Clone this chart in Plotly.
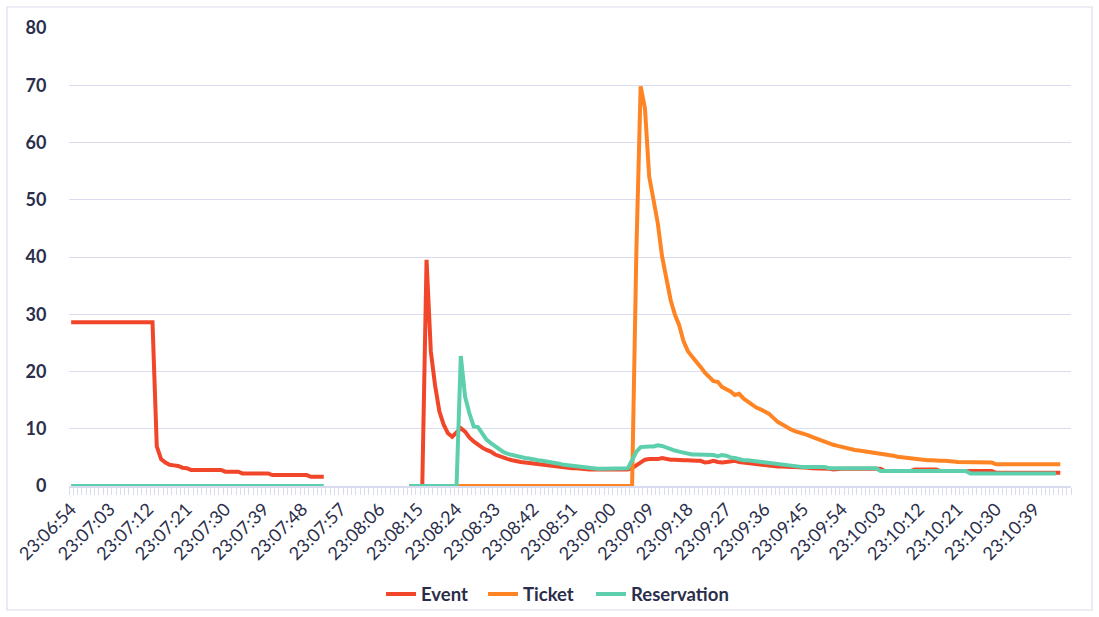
import datetime as dt
import plotly.graph_objects as go

# One category per second, 23:06:54 .. 23:10:47
start = dt.datetime(2000, 1, 1, 23, 6, 54)
times = [(start + dt.timedelta(seconds=s)).strftime("%H:%M:%S") for s in range(234)]
label_every = 9
tick_text = [t if i % label_every == 0 else "" for i, t in enumerate(times)]

N = None
# Event series (first burst 0..59, gap, second burst 79..231)
event = (
    [28.6] * 20
    + [6.9, 4.7, 4.1, 3.7, 3.6, 3.5, 3.2, 3.1]
    + [2.8] * 8
    + [2.5] * 4
    + [2.2] * 7
    + [1.9] * 9
    + [1.6] * 4
    + [N] * 19
    + [0, 0, 0, 0]
    + [39.5, 23.5, 17.5, 13.0, 10.7, 9.2, 8.6, 9.3, 10.1, 9.5,
       8.5, 7.8, 7.2, 6.7, 6.3, 6.0, 5.5, 5.2, 4.9, 4.7,
       4.5, 4.3, 4.2, 4.1, 4.0, 3.9, 3.8, 3.7, 3.6, 3.5,
       3.4, 3.4, 3.3, 3.2, 3.1, 3.1, 3.0]
    + [2.9] * 11
    + [3.1, 3.6, 4.2, 4.6, 4.7, 4.7, 4.7, 4.9, 4.7, 4.6,
       4.6, 4.5, 4.5, 4.5, 4.4, 4.4, 4.4, 4.1, 4.2, 4.4,
       4.2, 4.1, 4.2, 4.3, 4.4, 4.2, 4.1, 4.0, 3.9, 3.8,
       3.7, 3.6, 3.5, 3.5, 3.4, 3.4, 3.3, 3.3, 3.3, 3.3,
       3.2, 3.2, 3.1, 3.1, 3.1, 3.0, 3.0, 2.9]
    + [3.0] * 11
    + [2.6] * 7
    + [2.9] * 6
    + [2.6] * 8
    + [2.6] * 5
    + [2.3] * 16
    + [N] * 2
)

# Ticket series (only in the second burst)
ticket = (
    [N] * 79
    + [0] * 53
    + [41.0, 69.8, 66.0, 54.0, 50.0, 45.9, 40.1, 36.0, 32.5, 29.9,
       28.1, 25.3, 23.6, 22.6, 21.8, 20.8, 19.8, 19.0, 18.3, 18.2,
       17.3, 16.9, 16.5, 15.9, 16.1, 15.3, 14.7, 14.1, 13.7, 13.4,
       13.0, 12.6, 11.9, 11.2, 10.8, 10.3, 9.9, 9.6, 9.4, 9.2,
       8.9, 8.6, 8.3, 8.0, 7.7, 7.4, 7.2, 7.0, 6.8, 6.6,
       6.5, 6.3, 6.2, 6.1, 6.0, 5.9, 5.7, 5.6, 5.5, 5.4,
       5.3, 5.1, 5.0, 5.0, 4.9, 4.8, 4.7, 4.6, 4.5, 4.5,
       4.4, 4.4, 4.4, 4.4, 4.3, 4.2, 4.2, 4.1, 4.1]
    + [4.1] * 5
    + [3.8] * 16
    + [N] * 2
)

# Reservation series
reservation = (
    [0] * 60
    + [N] * 19
    + [0] * 12
    + [22.7, 15.6, 12.7, 10.4, 10.3, 9.3, 8.1, 7.5, 6.9, 6.4,
       5.9, 5.6, 5.4, 5.2, 5.0, 4.9, 4.8, 4.6, 4.5, 4.4,
       4.3, 4.1, 4.0, 3.9, 3.7, 3.6, 3.5, 3.4, 3.3, 3.2,
       3.1, 3.0]
    + [3.0] * 7
    + [3.1, 4.5, 6.0, 6.8, 6.9, 6.9, 6.9, 7.1, 7.0, 6.7,
       6.4, 6.2, 6.0, 5.8, 5.6, 5.5, 5.5, 5.5, 5.5, 5.5,
       5.4, 5.2, 5.4, 5.3, 5.0, 4.9, 4.7, 4.5, 4.5, 4.4,
       4.3, 4.2, 4.1, 4.0, 3.9, 3.8, 3.7, 3.6, 3.5, 3.4,
       3.3, 3.3, 3.3, 3.3, 3.3, 3.3, 3.3, 3.1]
    + [3.1] * 11
    + [2.6] * 21
    + [2.2] * 21
    + [N] * 2
)

series = [
    ("Event", event, "#f2462a"),
    ("Ticket", ticket, "#ff8424"),
    ("Reservation", reservation, "#5dcfad"),
]

NAVY = "#2b2e4a"
GRID = "#d9dbee"

W, H = 1099, 617
ML, MR, MT, MB = 69, 28, 28, 131
pw, ph = W - ML - MR, H - MT - MB

# each series gets its own legend box, placed side by side under the axis
legend_left_px = [381, 483, 591]
legend_ids = ["legend", "legend2", "legend3"]

fig = go.Figure()
for (name, values, color), lid in zip(series, legend_ids):
    fig.add_trace(go.Scatter(
        x=times, y=values, name=name, mode="lines",
        line=dict(color=color, width=4),
        connectgaps=False, legend=lid,
    ))

legend_style = dict(
    orientation="h", xanchor="left", y=-0.237, yanchor="middle",
    font=dict(family="Lato", size=18.5, color=NAVY, weight="bold"),
    bgcolor="rgba(0,0,0,0)", itemwidth=30,
)
legends = {
    lid: dict(legend_style, x=(px - ML) / pw)
    for lid, px in zip(legend_ids, legend_left_px)
}

fig.update_layout(
    width=W, height=H,
    margin=dict(l=ML, r=MR, t=MT, b=MB, pad=0, autoexpand=False),
    paper_bgcolor="white", plot_bgcolor="white",
    font=dict(family="Lato", color=NAVY),
    showlegend=True,
    **legends,
    xaxis=dict(
        type="category", categoryorder="array", categoryarray=times,
        range=[-0.5, len(times) - 0.5], automargin=False,
        tickmode="array", tickvals=times, ticktext=tick_text,
        tickson="boundaries", ticks="outside", ticklen=7, tickwidth=1,
        tickcolor=GRID, showline=True, linecolor=GRID, linewidth=1.5,
        showgrid=False, tickangle=-45, ticklabelstandoff=4,
        tickfont=dict(family="Lato", size=18, color=NAVY),
    ),
    yaxis=dict(
        range=[0, 80], dtick=10, tick0=0, automargin=False,
        showgrid=True, gridcolor=GRID, gridwidth=1.3,
        zeroline=False, showline=False,
        ticks="outside", ticklen=18, tickcolor="rgba(0,0,0,0)",
        tickfont=dict(family="Lato", size=18, color=NAVY, weight="bold"),
    ),
    shapes=[dict(
        type="rect", xref="paper", yref="paper",
        x0=(7 - ML) / pw, x1=(1092 - ML) / pw,
        y0=(MT + ph - 610) / ph, y1=(MT + ph - 7) / ph,
        line=dict(color="#dcdcef", width=1.2), fillcolor="rgba(0,0,0,0)",
        layer="below",
    )],
)

fig.write_html("out.html")
